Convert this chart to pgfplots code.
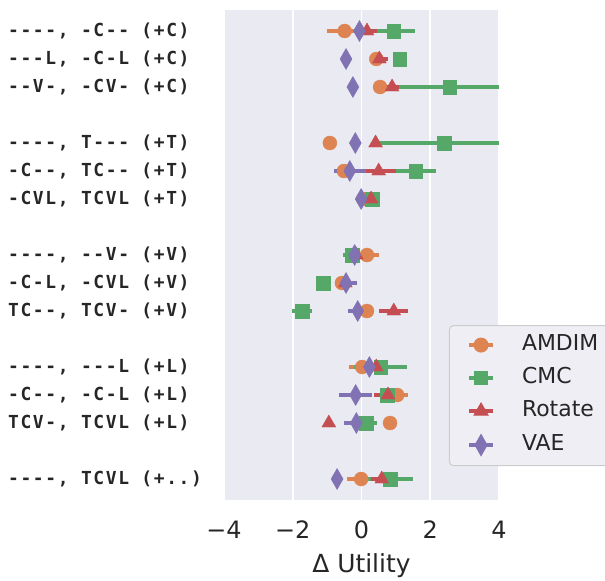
\documentclass[border=0pt]{standalone}
\usepackage{fontspec}
\setmainfont{DejaVu Sans}
\newfontfamily\monob{DejaVu Sans Mono}[LetterSpace=9]
\usepackage{pgfplots}
\pgfplotsset{compat=1.18}
\usetikzlibrary{plotmarks}

\definecolor{axbg}{HTML}{EAEAF2}
\definecolor{txt}{HTML}{262626}
\definecolor{amdim}{HTML}{DD8452}
\definecolor{cmc}{HTML}{55A868}
\definecolor{rot}{HTML}{C44E52}
\definecolor{vae}{HTML}{8172B3}
\definecolor{legbg}{HTML}{EEEEF4}
\definecolor{legedge}{HTML}{CCCCCC}

% y = row, x = delta utility, e = error
\pgfplotstableread{
y x e
0 -0.49 0.50
1 0.43 0.15
2 0.54 0.10
4 -0.92 0.10
5 -0.51 0.15
6 0.05 0.10
8 0.16 0.34
9 -0.57 0.10
10 0.16 0.10
12 0.02 0.37
13 1.04 0.31
14 0.83 0.10
16 -0.01 0.42
}\amdimdata
\pgfplotstableread{
y x e
0 0.93 0.64
1 1.12 0.20
2 2.56 1.46
4 2.41 1.94
5 1.57 0.60
6 0.31 0.10
8 -0.27 0.27
9 -1.11 0.10
10 -1.73 0.30
12 0.55 0.78
13 0.75 0.30
14 0.14 0.31
16 0.83 0.68
}\cmcdata
\pgfplotstableread{
y x e
0 0.16 0.30
1 0.52 0.24
2 0.89 0.20
4 0.41 0.10
5 0.50 0.49
6 0.28 0.10
8 -0.15 0.10
9 -0.47 0.10
10 0.94 0.42
12 0.43 0.20
13 0.77 0.42
14 -0.95 0.10
16 0.59 0.30
}\rotdata
\pgfplotstableread{
y x e
0 -0.06 0.10
1 -0.45 0.05
2 -0.25 0.10
4 -0.18 0.05
5 -0.34 0.47
6 -0.01 0.05
8 -0.20 0.15
9 -0.45 0.31
10 -0.11 0.29
12 0.23 0.10
13 -0.17 0.49
14 -0.15 0.36
16 -0.71 0.05
}\vaedata

\pgfplotsset{
    every error bar/.append style={/tikz/line width=3.2bp},
    errx/.style={error bars/.cd, x dir=both, x explicit, error mark=none,
        error bar style={/tikz/line width=3.2bp, solid}},
}

\begin{document}
\begin{tikzpicture}
\begin{axis}[
    scale only axis,
    width=275bp, height=490bp,
    xmin=-4, xmax=4,
    ymin=-0.75, ymax=16.75,
    y dir=reverse,
    axis background/.style={fill=axbg},
    axis line style={draw=none},
    xtick={-4,-2,0,2,4},
    xticklabels={−4,−2,0,2,4},
    xmajorgrids,
    major grid style={draw=white, line width=1.6bp},
    major tick length=0pt,
    ytick={0,1,2,4,5,6,8,9,10,12,13,14,16},
    yticklabels={
        {----, -C-- (+C)},
        {---L, -C-L (+C)},
        {--V-, -CV- (+C)},
        {----, T--- (+T)},
        {-C--, TC-- (+T)},
        {-CVL, TCVL (+T)},
        {----, --V- (+V)},
        {-C-L, -CVL (+V)},
        {TC--, TCV- (+V)},
        {----, ---L (+L)},
        {-C--, -C-L (+L)},
        {TCV-, TCVL (+L)},
        {----, TCVL (+..)}
    },
    yticklabel style={font=\monob\bfseries\fontsize{18}{21}\selectfont, text=txt,
        anchor=west, inner sep=0pt, xshift=-216bp},
    xticklabel style={font=\fontsize{24}{28}\selectfont, text=txt,
        anchor=north, inner sep=0pt, yshift=-21bp},
    xlabel={Δ Utility},
    xlabel style={font=\fontsize{25}{30}\selectfont, text=txt,
        anchor=base, at={(0.5,0)}, yshift=-72bp},
    legend style={at={(0.818,0.357)}, anchor=north west,
        fill=legbg, draw=legedge, line width=1bp, rounded corners=4bp,
        font=\fontsize{22}{26}\selectfont, text=txt,
        inner xsep=18bp, inner ysep=10bp, row sep=14bp,
        nodes={inner sep=0pt, text height=15bp, text depth=4bp},
        cells={anchor=west}},
    legend image code/.code={
        \path[draw=none] (0bp,0bp) -- (53bp,0bp);
        \draw[line width=3.2bp, solid] (0bp,0bp) -- (24bp,0bp);
        \draw[only marks] plot coordinates {(12bp,0bp)};
    },
]
\addplot[only marks, color=amdim, mark=*, mark size=7bp, errx]
    table[x=x, y=y, x error=e] {\amdimdata};
\addlegendentry{AMDIM}
\addplot[only marks, color=cmc, mark=square*, mark size=6.7bp, errx]
    table[x=x, y=y, x error=e] {\cmcdata};
\addlegendentry{CMC}
\addplot[only marks, color=rot, mark=triangle*, mark size=8bp, errx]
    table[x=x, y=y, x error=e] {\rotdata};
\addlegendentry{Rotate}
\addplot[only marks, color=vae, mark=diamond*, mark size=10.5bp,
    mark options={xscale=0.76}, errx]
    table[x=x, y=y, x error=e] {\vaedata};
\addlegendentry{VAE}
\end{axis}
\pgfresetboundingbox
\useasboundingbox (-224bp,-81bp) rectangle (381bp,500bp);
\end{tikzpicture}
\end{document}
